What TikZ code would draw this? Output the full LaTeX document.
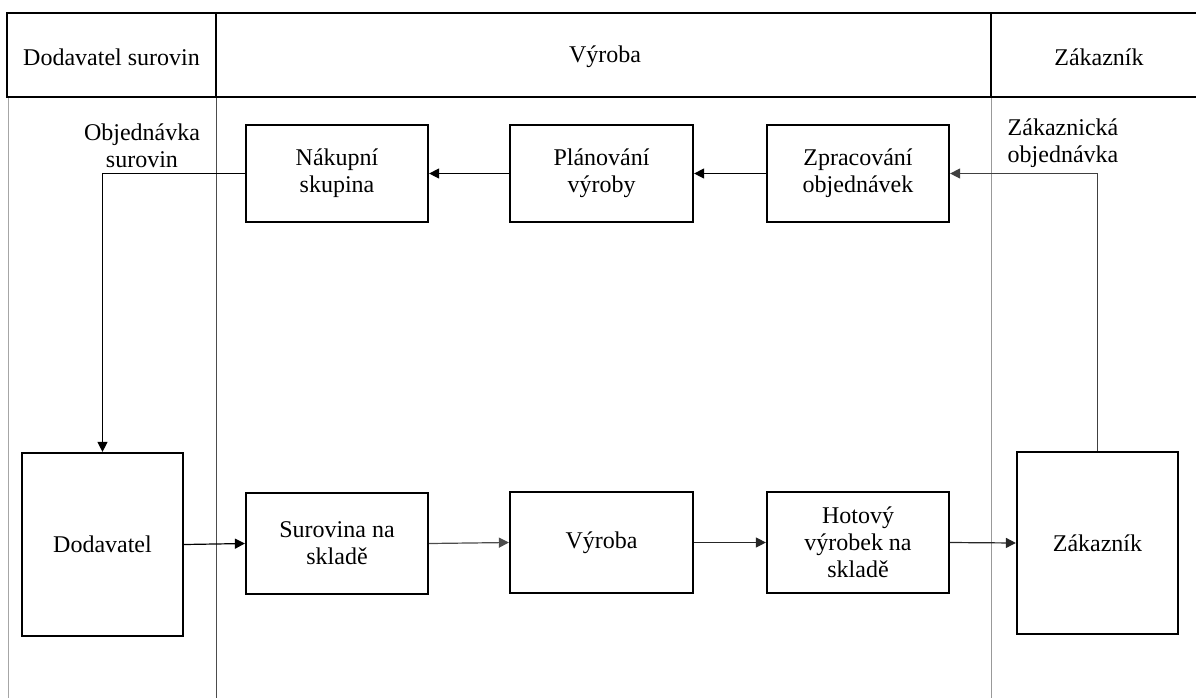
\documentclass[tikz,border=0pt]{standalone}
\usepackage{fontspec}
\setmainfont{Liberation Serif}
\usetikzlibrary{arrows.meta}
\begin{document}
\begin{tikzpicture}[x=0.5pt,y=-0.5pt,
  every node/.style={font=\fontsize{12}{13.5}\selectfont},
  box/.style={draw=black,line width=1.1pt,align=center,inner sep=0pt},
  lane/.style={line width=0.5pt},
  flow/.style={line width=0.6pt,-{Triangle[length=5pt,width=5pt]}},
  lbl/.style={align=center,inner sep=0pt}]
\useasboundingbox (0,0) rectangle (1196,698);
% lanes
\draw[lane,black!35] (8,97) -- (8,698);
\draw[lane,black!70] (216,97) -- (216,698);
\draw[lane,black!40] (991,97) -- (991,698);
% header
\draw[line width=1pt] (1200,13) -- (7,13) -- (7,97) -- (1200,97);
\draw[line width=1pt] (216,13) -- (216,97);
\draw[line width=1pt] (991,13) -- (991,97);
\node[lbl] (h1) at (111.5,57) {Dodavatel surovin};
\node[lbl] (h2) at (605,57) {Výroba};
\node[lbl] (h3) at (1099,57) {Zákazník};
% top row
\node[box,minimum width=91pt,minimum height=48.5pt] (nak) at (337,173.5) {Nákupní\\skupina};
\node[box,minimum width=91.5pt,minimum height=48.5pt] (pla) at (601.5,173.5) {Plánování\\výroby};
\node[box,minimum width=91pt,minimum height=48.5pt] (zpr) at (858,173.5) {Zpracování\\objednávek};
% bottom row
\node[box,minimum width=80.5pt,minimum height=91.5pt] (dod) at (102.5,544.5) {Dodavatel};
\node[box,minimum width=91pt,minimum height=50.5pt] (sur) at (337,543.5) {Surovina na\\skladě};
\node[box,minimum width=91.5pt,minimum height=50.5pt] (vyr) at (601.5,542.5) {Výroba};
\node[box,minimum width=91pt,minimum height=50.5pt] (hot) at (858,542.5) {Hotový\\výrobek na\\skladě};
\node[box,minimum width=80.5pt,minimum height=91pt] (zak) at (1097.5,543) {Zákazník};
% labels
\node[lbl] (lobj) at (142,146) {Objednávka\\surovin};
\node[lbl] (lzak) at (1063,143) {Zákaznická\\objednávka};
% connectors
\draw[flow] (pla.west) -- (nak.east);
\draw[flow] (zpr.west) -- (pla.east);
\draw[flow,black!75] (zak.north) |- (zpr.east);
\draw[flow] (nak.west) -| (dod.north);
\draw[flow] (dod.east) -- (sur.west);
\draw[flow,black!70] (sur.east) -- (vyr.west);
\draw[flow,black!85] (vyr.east) -- (hot.west);
\draw[flow,black!85] (hot.east) -- (zak.west);
\end{tikzpicture}
\end{document}
